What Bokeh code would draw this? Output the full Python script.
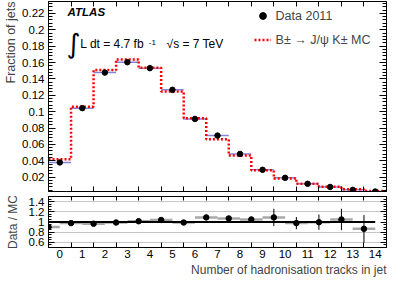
import numpy as np
from bokeh.plotting import figure
from bokeh.layouts import column
from bokeh.models import (FixedTicker, SingleIntervalTicker, LinearAxis, Range1d, Title, Label,
                          Legend, LegendItem, CustomJSTickFormatter, Grid, CustomLabelingPolicy)
from bokeh.embed import file_html
from bokeh.resources import INLINE

# ---------------- data ----------------
bins = np.arange(15)  # number of hadronisation tracks
x_labels = [str(i) for i in range(15)]
data_frac = [0.0380, 0.1043, 0.1477, 0.1604, 0.1531, 0.1266, 0.0911, 0.0708,
             0.0484, 0.0290, 0.0192, 0.0119, 0.0080, 0.0045, 0.0025]
mc_frac = [0.0419, 0.1061, 0.1508, 0.1637, 0.1535, 0.1246, 0.0919, 0.0662,
           0.0465, 0.0284, 0.0184, 0.0119, 0.0084, 0.0053, 0.0030]
ratio = [0.90, 0.978, 0.966, 0.99, 1.015, 1.04, 0.99, 1.09,
         1.07, 1.05, 1.09, 0.978, 0.996, 1.05, 0.866]
ratio_err = [0.02, 0.01, 0.01, 0.01, 0.01, 0.015, 0.02, 0.025,
             0.035, 0.05, 0.17, 0.12, 0.15, 0.21, 0.27]

FONT = "Liberation Sans"
W = 391
LB, RB = 48, 5

edges = np.append(bins - 0.5, bins[-1] + 0.5)
half = bins[:-1] + 0.5
ratio_x = bins - 0.5
data_arr = np.array(data_frac)
mc_arr = np.array(mc_frac)
ratio_arr = np.array(ratio)
err_arr = np.array(ratio_err)

num_fmt = CustomJSTickFormatter(code="return String(Math.round(tick*1000)/1000);")
no_labels = CustomLabelingPolicy(code="for (const i of indices) { indices.unset(i) } return indices")


def hide_labels(ax):
    ax.major_label_text_font_size = "0px"
    ax.major_label_standoff = 0
    ax.major_label_policy = no_labels


def style(ax, tin, minin):
    ax.axis_line_color = "black"
    ax.major_tick_in = tin
    ax.major_tick_out = 0
    ax.minor_tick_in = minin
    ax.minor_tick_out = 0
    ax.major_tick_line_color = "black"
    ax.minor_tick_line_color = "black"
    ax.major_label_text_font = FONT
    ax.major_label_text_font_size = "11.5px"
    ax.major_label_text_color = "black"
    ax.major_label_standoff = 4


# ---------------- top panel ----------------
p = figure(width=W, height=196, x_range=Range1d(-0.5, 14.5), y_range=Range1d(0.0025, 0.2345),
           output_backend="svg", toolbar_location=None,
           min_border_left=LB, min_border_right=RB, min_border_top=1, min_border_bottom=5)
p.grid.visible = False
p.outline_line_color = "black"

p.yaxis.ticker = SingleIntervalTicker(interval=0.02, num_minor_ticks=5)
p.yaxis.formatter = num_fmt
style(p.yaxis[0], 7, 4)

p.xaxis.ticker = FixedTicker(ticks=list(half), minor_ticks=[])
style(p.xaxis[0], 5, 3)
hide_labels(p.xaxis[0])

ax_r = LinearAxis(ticker=SingleIntervalTicker(interval=0.02, num_minor_ticks=5))
style(ax_r, 7, 4)
hide_labels(ax_r)
p.add_layout(ax_r, "right")
ax_t = LinearAxis(ticker=FixedTicker(ticks=list(half), minor_ticks=[]))
style(ax_t, 5, 3)
hide_labels(ax_t)
p.add_layout(ax_t, "above")

p.add_layout(Title(text="Fraction of jets", align="right", text_font=FONT, text_font_size="12.5px",
                   text_font_style="normal", standoff=3, offset=0), "left")

p.segment(x0=bins - 0.5, x1=bins + 0.5, y0=data_arr, y1=data_arr, line_color="#8484dc", line_width=1.5)
mc_line = p.step(x=edges, y=np.append(mc_arr, mc_arr[-1]), mode="after", line_color="#ff0000",
                 line_width=2.5, line_dash="2 2")
pts = p.scatter(x=bins, y=data_arr, size=5.5, color="black")

p.add_layout(Label(x=0.348, y=0.2143, text="ATLAS", text_font=FONT, text_font_size="11.5px",
                   text_font_style="bold italic", text_color="black"))
p.add_layout(Label(x=0.30, y=0.1838, text="∫", text_font="DejaVu Sans", text_font_size="27px",
                   text_baseline="middle", text_color="black"))
p.add_layout(Label(x=0.913, y=0.1739, text="L dt = 4.7 fb", text_font=FONT, text_font_size="12px",
                   text_color="black"))
p.add_layout(Label(x=3.95, y=0.1810, text="-1", text_font=FONT, text_font_size="8px",
                   text_color="black"))
p.add_layout(Label(x=4.739, y=0.1739, text="√s = 7 TeV", text_font=FONT, text_font_size="12px",
                   text_color="black"))

legend = Legend(items=[LegendItem(label="Data 2011", renderers=[pts]),
                       LegendItem(label="B± → J/ψ K± MC", renderers=[mc_line])],
                location=(205.6, 141.8), border_line_color=None, background_fill_alpha=0,
                padding=0, margin=0, spacing=5, glyph_width=17, glyph_height=19, label_height=19,
                label_standoff=5, label_text_font=FONT, label_text_font_size="12.5px")
p.add_layout(legend)

# ---------------- ratio panel ----------------
r = figure(width=W, height=81, x_range=p.x_range, y_range=Range1d(0.5, 1.5),
           output_backend="svg", toolbar_location=None,
           min_border_left=LB, min_border_right=RB, min_border_top=0, min_border_bottom=30)
r.grid.visible = False
r.outline_line_color = "black"
r.add_layout(Grid(dimension=1, ticker=FixedTicker(ticks=[0.6, 0.8, 1.2, 1.4]),
                  grid_line_color="#8c8c8c", grid_line_dash="1 1", grid_line_width=1))

r.yaxis.ticker = SingleIntervalTicker(interval=0.2, num_minor_ticks=4)
r.yaxis.formatter = num_fmt
style(r.yaxis[0], 6, 3)
r.yaxis.axis_label = "Data / MC"
r.yaxis.axis_label_text_font = FONT
r.yaxis.axis_label_text_font_size = "12px"
r.yaxis.axis_label_text_font_style = "normal"
r.yaxis.axis_label_standoff = 6

r.xaxis.ticker = FixedTicker(ticks=list(bins), minor_ticks=list(half))
r.xaxis.formatter = CustomJSTickFormatter(args=dict(labels=x_labels),
                                          code="return labels[Math.round(tick)];")
style(r.xaxis[0], 0, 5)
r.xaxis.major_tick_line_color = None
r.xaxis.major_label_standoff = 2

ax_r2 = LinearAxis(ticker=SingleIntervalTicker(interval=0.2, num_minor_ticks=4))
style(ax_r2, 6, 3)
hide_labels(ax_r2)
r.add_layout(ax_r2, "right")
ax_t2 = LinearAxis(ticker=FixedTicker(ticks=list(half), minor_ticks=[]))
style(ax_t2, 4, 2)
hide_labels(ax_t2)
r.add_layout(ax_t2, "above")

r.add_layout(Title(text="Number of hadronisation tracks in jet", align="right", text_font=FONT,
                   text_font_size="12px", text_font_style="normal", standoff=1, offset=0), "below")

r.segment(x0=ratio_x - 0.5, x1=ratio_x + 0.5, y0=ratio_arr, y1=ratio_arr,
          line_color="#a8a8a8", line_width=2.5)
r.segment(x0=[ratio_x[0]], x1=[ratio_x[-1] + 0.5], y0=[1.0], y1=[1.0], line_color="black", line_width=2)
r.segment(x0=ratio_x, x1=ratio_x, y0=ratio_arr - err_arr, y1=ratio_arr + err_arr,
          line_color="black", line_width=1)
r.scatter(x=ratio_x, y=ratio_arr, size=5.5, color="black")

layout = column(p, r, spacing=0)
open("out.html", "w").write(file_html(layout, INLINE))
